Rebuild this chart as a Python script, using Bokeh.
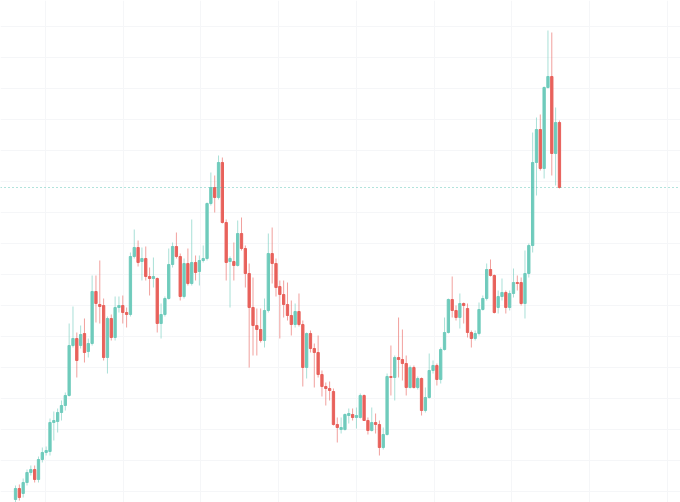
from bokeh.plotting import figure
from bokeh.models import Range1d, Grid, FixedTicker, Span, ColumnDataSource
from bokeh.embed import file_html
from bokeh.resources import INLINE

opens = [21, 32, 27, 38, 48, 51, 41, 61, 68, 69, 98, 99, 108, 115, 125, 175, 182, 175, 187, 169,
         177, 229, 216, 215, 163, 202, 183, 213, 215, 208, 206, 264, 273, 259, 262, 244, 242, 242, 197, 206,
         222, 256, 274, 264, 224, 257, 237, 258, 249, 260, 262, 317, 333, 323, 358, 298, 259, 259, 255, 287,
         272, 247, 213, 195, 191, 180, 210, 267, 257, 234, 226, 216, 205, 196, 209, 196, 153, 187, 172, 168,
         146, 134, 132, 129, 96, 91, 91, 105, 106, 103, 103, 125, 100, 90, 98, 96, 73, 86, 144, 143,
         163, 161, 157, 133, 153, 133, 142, 110, 123, 150, 155, 141, 171, 188, 221, 210, 203, 217, 212, 188,
         182, 187, 211, 222, 251, 245, 213, 224, 228, 213, 227, 238, 238, 217, 247, 275, 358, 391, 352, 433,
         444, 367, 398]
highs = [35, 36, 42, 51, 55, 55, 64, 73, 74, 102, 109, 112, 120, 128, 197, 214, 188, 195, 202, 182,
         245, 245, 260, 222, 204, 206, 224, 224, 225, 213, 268, 291, 280, 273, 274, 253, 263, 243, 217, 224,
         272, 278, 288, 267, 262, 272, 301, 265, 265, 275, 318, 348, 345, 365, 363, 301, 264, 278, 300, 303,
         275, 257, 243, 212, 212, 222, 287, 293, 262, 240, 240, 238, 220, 217, 227, 200, 188, 190, 177, 185,
         150, 138, 139, 132, 103, 103, 107, 112, 112, 113, 127, 126, 103, 113, 107, 100, 93, 147, 175, 165,
         203, 191, 165, 155, 155, 144, 143, 133, 167, 160, 157, 173, 203, 222, 244, 215, 227, 218, 217, 190,
         190, 218, 225, 257, 261, 246, 230, 242, 230, 230, 252, 245, 243, 270, 277, 388, 403, 406, 434, 490,
         488, 413, 400]
lows = [18, 20, 23, 35, 45, 38, 38, 58, 65, 65, 80, 88, 100, 110, 124, 173, 143, 172, 158, 163,
        175, 198, 197, 160, 147, 180, 180, 208, 197, 193, 204, 262, 254, 240, 240, 225, 233, 188, 182, 204,
        221, 253, 262, 220, 222, 235, 235, 240, 235, 258, 260, 315, 308, 321, 297, 240, 213, 240, 254, 270,
        233, 153, 165, 165, 178, 173, 208, 237, 224, 182, 203, 200, 185, 193, 194, 134, 142, 168, 133, 143,
        124, 115, 120, 95, 78, 87, 90, 97, 100, 92, 102, 100, 86, 89, 87, 65, 71, 85, 125, 120,
        143, 140, 125, 132, 132, 131, 105, 108, 122, 147, 135, 137, 170, 187, 203, 200, 192, 197, 183, 173,
        180, 185, 210, 220, 244, 207, 207, 220, 207, 210, 223, 230, 215, 202, 243, 268, 325, 350, 342, 432,
        345, 335, 332]
closes = [32, 23, 38, 48, 51, 41, 61, 68, 70, 98, 100, 108, 115, 125, 175, 182, 160, 186, 168, 177,
          229, 217, 214, 163, 202, 183, 213, 215, 208, 206, 264, 273, 258, 262, 244, 242, 244, 197, 206, 222,
          256, 274, 264, 224, 257, 237, 258, 248, 260, 262, 317, 333, 323, 358, 298, 258, 262, 255, 287, 272,
          247, 213, 195, 191, 180, 210, 267, 257, 233, 226, 216, 205, 196, 209, 196, 153, 187, 172, 168, 146,
          134, 132, 130, 96, 93, 93, 106, 107, 103, 105, 125, 100, 90, 98, 96, 73, 86, 144, 143, 163,
          161, 157, 133, 153, 133, 142, 110, 123, 150, 155, 141, 171, 188, 221, 210, 203, 217, 215, 188, 182,
          187, 211, 222, 251, 245, 208, 224, 228, 213, 227, 238, 237, 217, 247, 275, 358, 391, 352, 433, 444,
          367, 398, 333]

last_price = closes[-1]

UP = "#6fcbbc"
DOWN = "#e8615b"

idx = list(range(len(opens)))
up = [c >= o for o, c in zip(opens, closes)]
colors = [UP if u else DOWN for u in up]
src = ColumnDataSource(dict(
    x=idx,
    high=highs,
    low=lows,
    top=[max(o, c) for o, c in zip(opens, closes)],
    bottom=[min(o, c) for o, c in zip(opens, closes)],
    color=colors,
))

p = figure(width=680, height=502, x_range=Range1d(-3.92, 173.6), y_range=Range1d(18, 520),
           x_axis_type=None, y_axis_type=None, output_backend="svg", toolbar_location=None,
           min_border=0, min_border_left=0, min_border_right=0, min_border_top=0, min_border_bottom=0)
p.outline_line_color = None
p.background_fill_color = "white"
p.border_fill_color = "white"

xgrid_ticks = [7.8, 28.1, 48.4, 68.7, 89.0, 109.3, 129.6, 149.9, 170.2]
ygrid_ticks = [29, 60, 91, 122, 153, 184, 215, 246, 277, 308, 339, 370, 401, 432, 463, 494]
p.add_layout(Grid(dimension=0, ticker=FixedTicker(ticks=xgrid_ticks),
                  grid_line_color="#f5f6f8", grid_line_width=1))
p.add_layout(Grid(dimension=1, ticker=FixedTicker(ticks=ygrid_ticks),
                  grid_line_color="#f5f6f8", grid_line_width=1))

p.segment(x0="x", y0="high", x1="x", y1="low", source=src, line_color="color",
          line_alpha=0.6, line_width=1)
p.vbar(x="x", top="top", bottom="bottom", width=0.6, source=src, fill_color="color",
       line_color="color", line_width=1)

p.add_layout(Span(location=last_price, dimension="width", line_color="#3fb9a8",
                  line_alpha=0.8, line_dash="1 3", line_width=1.2))

open("out.html", "w").write(file_html(p, INLINE))
